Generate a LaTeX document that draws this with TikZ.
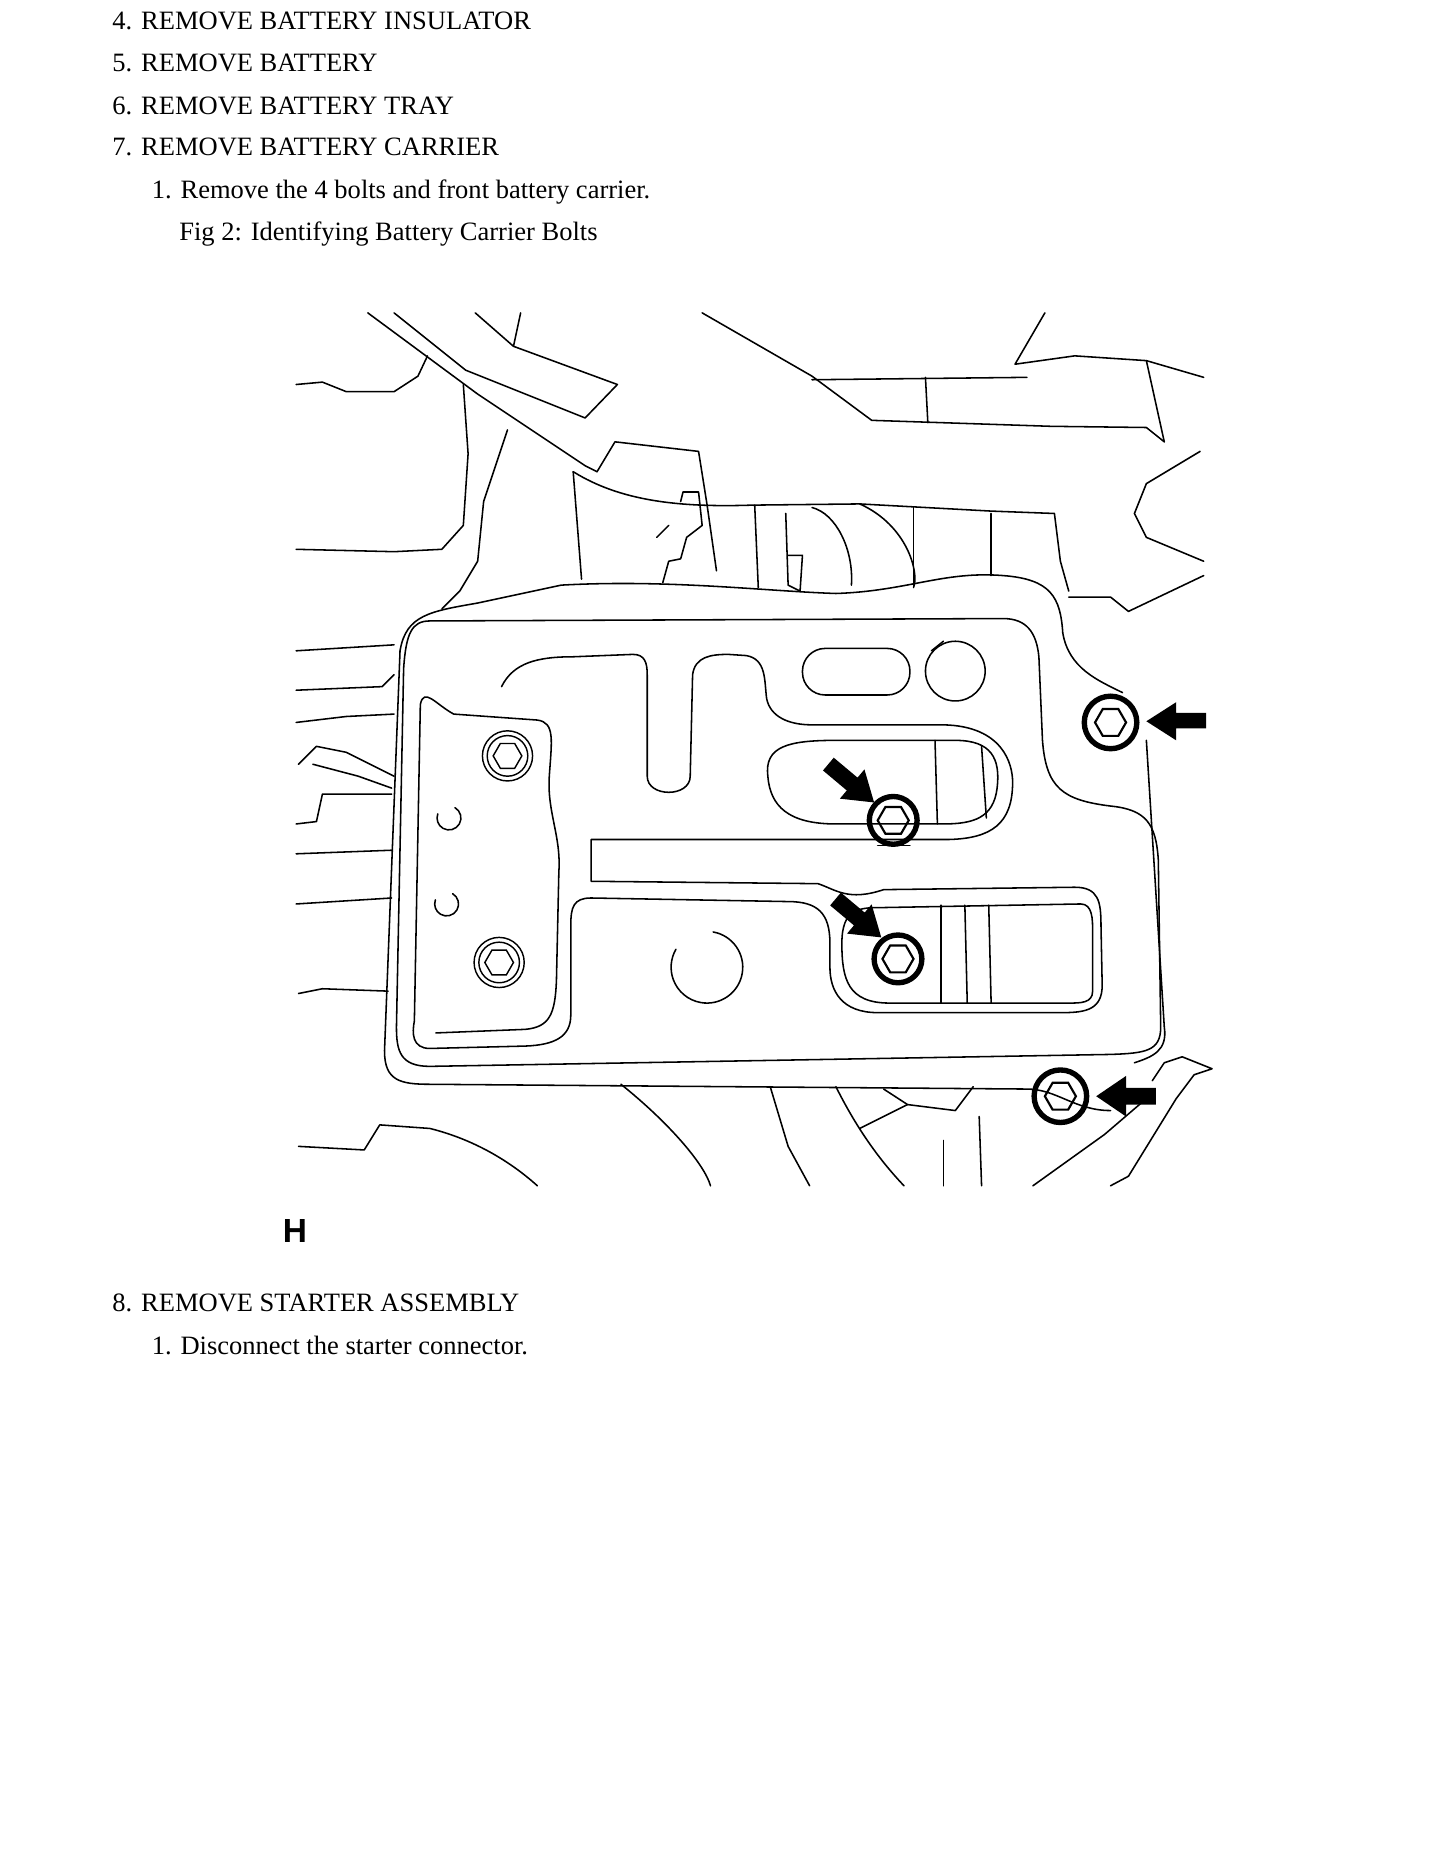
\documentclass[tikz,border=0pt]{standalone}
\usepackage{fontspec}
\setmainfont{Liberation Serif}
\newfontfamily\hfont{Liberation Sans}
\begin{document}
\begin{tikzpicture}[x=1pt,y=-1pt,
  ln/.style={line width=1.3pt,line join=round,line cap=round},
  txt/.style={anchor=base west,inner sep=0pt,font=\fontsize{22.2}{26}\selectfont},
  bolt/.style={line width=1.2pt},
  hb/.style={line width=4.5pt},
  blk/.style={fill=black,draw=none}]
\useasboundingbox (0,0) rectangle (1210,1566);
% texts
\node[txt] (t1) at (94,25) {4. REMOVE BATTERY INSULATOR};
\node[txt] (t2) at (94,60) {5. REMOVE BATTERY};
\node[txt] (t3) at (94,96) {6. REMOVE BATTERY TRAY};
\node[txt] (t4) at (94,130) {7. REMOVE BATTERY CARRIER};
\node[txt] (t5) at (127,166) {1. Remove the 4 bolts and front battery carrier.};
\node[txt] (t6) at (150,201) {Fig 2: Identifying Battery Carrier Bolts};
\node[anchor=center,inner sep=0pt,font=\hfont\bfseries\fontsize{28}{30}\selectfont] (h) at (247,1031) {H};
\node[txt] (t7) at (94,1098) {8. REMOVE STARTER ASSEMBLY};
\node[txt] (t8) at (127,1134) {1. Disconnect the starter connector.};
% background lines
\draw[ln] (248,322) -- (270,320) -- (290,328) -- (330,328) -- (350,315) -- (358,298);
\draw[ln] (308,262) -- (400,330) -- (490,390) -- (500,395);
\draw[ln] (330,262) -- (390,310) -- (490,350) -- (517,322) -- (430,290) -- (436,262);
\draw[ln] (398,262) -- (430,290);
\draw[ln] (388,322) -- (392,380) -- (388,440) -- (370,460) -- (330,462) -- (248,460);
\draw[ln] (425,360) -- (405,420) -- (400,470) -- (385,495) -- (370,510);
\draw[ln] (480,395) -- (487,485);
\draw[ln] (500,395) -- (515,370) -- (585,378) -- (592,422) -- (600,478);
\draw[ln] (480,395) .. controls (520,420) and (570,425) .. (630,423) -- (720,422) .. controls (760,440) and (770,480) .. (765,492);
\draw[ln] (570,420) -- (572,412) -- (585,412) -- (588,440) -- (575,450) -- (570,468) -- (560,470) -- (555,488);
\draw[ln] (550,450) -- (560,440);
\draw[ln] (632,423) -- (635,492);
\draw[ln] (658,430) -- (660,490) -- (670,495) -- (672,465) -- (660,465);
\draw[ln] (680,425) .. controls (700,430) and (715,460) .. (713,490);
\draw[ln] (765,425) -- (765,490);
\draw[ln] (830,430) -- (830,482);
\draw[ln] (720,422) -- (830,428) -- (883,430) -- (888,470) -- (895,495);
\draw[ln] (588,262) -- (680,315) -- (730,352) -- (880,357) -- (960,358) -- (975,370);
\draw[ln] (680,318) -- (860,316);
\draw[ln] (775,316) -- (777,354);
\draw[ln] (875,262) -- (850,305) -- (900,298) -- (960,302) -- (1008,316);
\draw[ln] (960,302) -- (975,370);
\draw[ln] (1005,378) -- (960,405) -- (950,430) -- (960,450) -- (1008,470);
\draw[ln] (1008,482) -- (945,512) -- (930,500) -- (895,500);
\draw[ln] (248,545) -- (330,540);
\draw[ln] (248,578) -- (320,575) -- (330,565);
\draw[ln] (248,605) -- (290,600) -- (330,598);
\draw[ln] (250,640) -- (265,625) -- (290,630) -- (330,650);
\draw[ln] (262,640) -- (300,650) -- (328,660);
\draw[ln] (248,690) -- (265,688) -- (270,665) -- (328,665);
\draw[ln] (248,715) -- (328,712);
\draw[ln] (248,757) -- (328,752);
\draw[ln] (250,832) -- (270,828) -- (325,830);
\draw[ln] (250,960) -- (305,963) -- (318,942) -- (360,945) .. controls (400,955) and (430,975) .. (450,993);
\draw[ln] (520,908) .. controls (560,940) and (590,975) .. (595,993);
\draw[ln] (645,910) -- (660,960) -- (678,993);
\draw[ln] (700,910) .. controls (720,950) and (740,975) .. (757,993);
\draw[ln] (740,912) -- (760,925) -- (800,930) -- (815,910);
\draw[ln] (720,945) -- (760,925);
\draw[ln] (790,955) -- (790,993);
\draw[ln] (820,935) -- (822,993);
\draw[ln] (865,993) -- (925,950) -- (960,920);
\draw[ln] (930,993) -- (945,985) -- (985,920) -- (1000,900) -- (1015,895) -- (990,885) -- (975,890) -- (965,905);
% outer carrier outline
\draw[ln] (335,545) .. controls (340,515) and (360,512) .. (400,505) -- (470,490)
  .. controls (560,485) and (640,495) .. (700,497) .. controls (760,495) and (790,478) .. (840,482)
  .. controls (880,485) and (888,500) .. (890,530) .. controls (895,560) and (920,570) .. (940,580);
\draw[ln] (335,545) -- (322,880) .. controls (322,905) and (335,908) .. (360,908) -- (860,912)
  .. controls (885,912) and (900,930) .. (930,930);
\draw[ln] (960,620) -- (975,860) .. controls (978,880) and (965,885) .. (950,890);
% second outline
\draw[ln] (360,520) -- (840,518) .. controls (860,518) and (868,530) .. (870,550) -- (873,620)
  .. controls (876,660) and (890,670) .. (930,675) .. controls (960,678) and (968,690) .. (970,720)
  -- (972,860) .. controls (972,880) and (960,882) .. (930,883) -- (360,893)
  .. controls (335,893) and (332,880) .. (332,860) -- (338,560) .. controls (340,530) and (345,520) .. (360,520);
% inner plate
\draw[ln] (420,575) .. controls (430,555) and (450,550) .. (480,550) -- (530,548)
  .. controls (540,548) and (542,555) .. (542,565) -- (542,650) .. controls (542,668) and (578,668) .. (578,650)
  -- (580,565) .. controls (582,550) and (595,548) .. (610,548) -- (625,549)
  .. controls (642,552) and (640,570) .. (642,585) .. controls (645,600) and (660,607) .. (680,607)
  -- (790,607) .. controls (840,608) and (848,640) .. (848,655) .. controls (848,690) and (830,702) .. (795,703)
  -- (495,703) -- (495,738) -- (685,740) .. controls (700,745) and (710,755) .. (740,745) -- (900,743)
  .. controls (920,743) and (922,755) .. (922,775) -- (923,825) .. controls (923,845) and (910,848) .. (890,848)
  -- (735,848) .. controls (705,848) and (695,830) .. (695,810) -- (695,790) .. controls (695,765) and (685,755) .. (660,755)
  -- (495,752) .. controls (480,752) and (478,760) .. (478,775) -- (478,850) .. controls (478,868) and (465,875) .. (440,876)
  -- (360,878) .. controls (345,878) and (345,865) .. (347,855) -- (352,590) .. controls (355,575) and (365,590) .. (380,598)
  -- (450,603) .. controls (465,605) and (462,620) .. (460,650) .. controls (458,680) and (470,700) .. (468,730)
  -- (466,820) .. controls (465,850) and (460,860) .. (440,862) -- (365,865);
\draw[ln] (643,650) .. controls (640,625) and (660,620) .. (700,620) -- (800,620) .. controls (830,620) and (838,635) .. (835,660)
  .. controls (832,685) and (815,690) .. (790,690) -- (700,690) .. controls (660,690) and (645,675) .. (643,650);
\draw[ln] (783,620) -- (785,690);
\draw[ln] (822,625) -- (826,685);
\draw[ln] (705,790) .. controls (705,760) and (720,760) .. (740,760) -- (905,757) .. controls (915,757) and (915,770) .. (915,780)
  -- (915,830) .. controls (915,840) and (905,840) .. (895,840) -- (745,840) .. controls (710,840) and (705,820) .. (705,790);
\draw[ln] (788,758) -- (788,840); \draw[ln] (808,758) -- (810,840); \draw[ln] (828,758) -- (830,840);
% slots and holes
\draw[ln,rounded corners=19pt] (672,543) rectangle (762,582);
\draw[ln] (800,562) circle (25);
\draw[ln] (780,545) -- (790,537);
\draw[ln] (592,810) ++(-80:30) arc (-80:210:30);
\draw[ln] (376,685) ++(-60:10) arc (-60:200:10);
\draw[ln] (374,757) ++(-60:10) arc (-60:200:10);
% plain bolts
\foreach \x/\y in {425/633,418/806}{
  \draw[bolt] (\x,\y) circle (21);
  \draw[bolt] (\x,\y) circle (17);
  \draw[bolt] (\x,\y) +(0:12) -- +(60:12) -- +(120:12) -- +(180:12) -- +(240:12) -- +(300:12) -- cycle;
}
% highlighted bolts
\foreach \x/\y/\r in {930/605/22,748/687/20,752/803/20,888/918/22}{
  \draw[hb] (\x,\y) circle (\r);
  \draw[line width=1.8pt] (\x,\y) +(0:13) -- +(60:13) -- +(120:13) -- +(180:13) -- +(240:13) -- +(300:13) -- cycle;
}
\draw[ln] (735,708) -- (762,708);
% arrows
\fill[blk] (1010,597) -- (985,597) -- (985,588) -- (960,604) -- (985,620) -- (985,610) -- (1010,610) -- cycle;
\fill[blk] (968,911) -- (943,911) -- (943,901) -- (918,918) -- (943,935) -- (943,925) -- (968,925) -- cycle;
\begin{scope}[shift={(732,672)},rotate=-40]
\fill[blk] (0,0) -- (-24,-16) -- (-24,-7) -- (-50,-7) -- (-50,7) -- (-24,7) -- (-24,16) -- cycle;
\end{scope}
\begin{scope}[shift={(738,785)},rotate=-40]
\fill[blk] (0,0) -- (-24,-16) -- (-24,-7) -- (-50,-7) -- (-50,7) -- (-24,7) -- (-24,16) -- cycle;
\end{scope}
\end{tikzpicture}
\end{document}
